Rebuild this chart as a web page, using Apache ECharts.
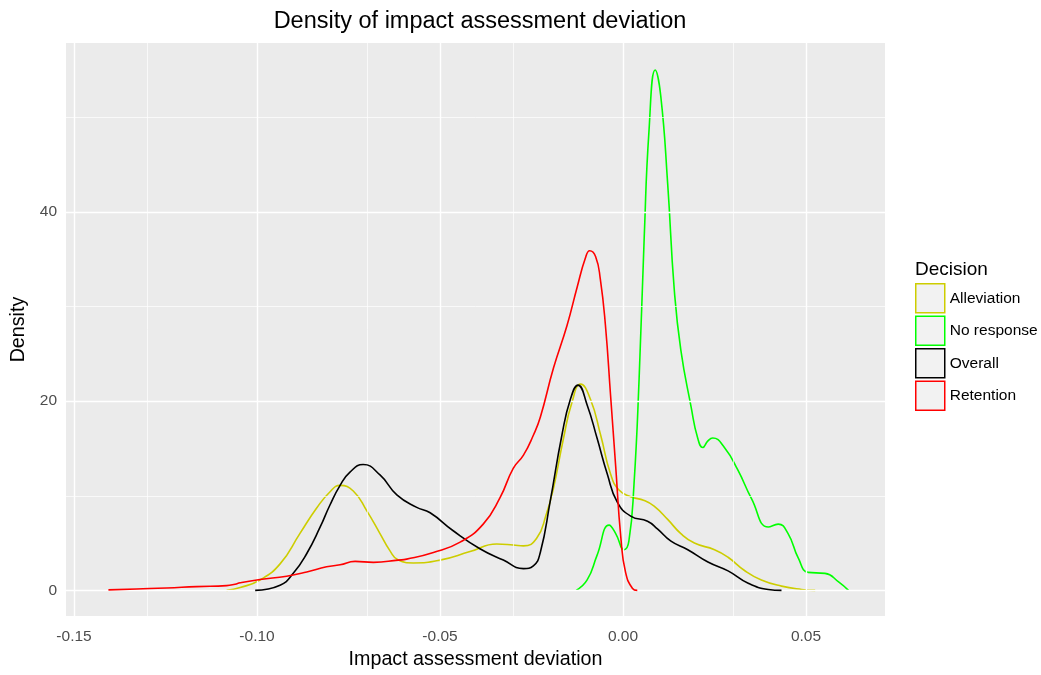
<!DOCTYPE html>
<html>
<head>
<meta charset="utf-8">
<title>Density of impact assessment deviation</title>
<script src="https://cdn.jsdelivr.net/npm/echarts@6/dist/echarts.min.js"></script>
<style>
  html, body { margin: 0; padding: 0; background: #ffffff; }
  #chart { width: 1041px; height: 675px; }
</style>
</head>
<body>
<div id="chart"></div>
<script>
// Kernel density estimates per decision group (x: deviation, y: density)
const alleviationX = [-0.1083, -0.1046, -0.0992, -0.0937, -0.0883, -0.0837, -0.0801, -0.0773, -0.0737, -0.070, -0.0664, -0.0637, -0.0614, -0.0573, -0.050, -0.0418, -0.0345, -0.030, -0.0272, -0.0236, -0.021, -0.019, -0.0163, -0.014, -0.0116, -0.0089, -0.0061, -0.0034, -0.0011, 0.0021, 0.0058, 0.0085, 0.0122, 0.0158, 0.0195, 0.025, 0.0287, 0.0332, 0.0378, 0.0433, 0.0488, 0.0525];
const alleviationY = [0.0, 0.3, 1.1, 2.8, 6.0, 8.7, 10.4, 11.1, 10.5, 8.4, 6.0, 4.2, 3.2, 2.9, 3.2, 4.1, 4.9, 4.8, 4.7, 5.5, 8.0, 10.8, 16.0, 19.8, 21.8, 20.2, 16.4, 12.3, 10.6, 9.9, 9.5, 8.9, 7.5, 6.0, 5.0, 4.3, 3.5, 2.1, 1.1, 0.45, 0.1, 0.0];

const noResponseX = [-0.0128, -0.0098, -0.0071, -0.0038, -0.002, 0.0003, 0.0016, 0.003, 0.0044, 0.0058, 0.0071, 0.0088, 0.0103, 0.0122, 0.014, 0.0158, 0.0186, 0.0204, 0.0218, 0.0232, 0.0245, 0.0277, 0.0314, 0.0351, 0.0397, 0.0424, 0.0451, 0.0479, 0.0506, 0.0552, 0.0589, 0.0616];
const noResponseY = [0.0, 1.1, 3.7, 6.9, 6.0, 4.3, 5.2, 11.2, 22.4, 37.4, 48.6, 55.0, 52.3, 43.0, 31.8, 25.4, 19.4, 16.1, 15.1, 15.8, 16.1, 15.1, 12.7, 9.7, 6.7, 7.0, 6.0, 3.4, 1.9, 1.8, 0.9, 0.0];

const overallX = [-0.1005, -0.0937, -0.0901, -0.0864, -0.0828, -0.0801, -0.0773, -0.0746, -0.071, -0.0664, -0.0618, -0.0565, -0.0527, -0.0464, -0.0391, -0.0327, -0.0272, -0.0245, -0.0226, -0.0199, -0.0167, -0.0143, -0.0123, -0.0098, -0.0071, -0.0043, -0.0016, 0.0021, 0.0067, 0.0094, 0.0131, 0.0177, 0.0232, 0.0287, 0.0342, 0.0397, 0.0433];
const overallY = [0.0, 0.55, 1.8, 3.9, 6.65, 9.0, 11.1, 12.5, 13.3, 12.2, 10.1, 8.8, 8.2, 6.3, 4.4, 3.2, 2.3, 2.6, 4.0, 9.4, 16.4, 20.3, 21.7, 19.6, 16.1, 12.3, 9.35, 7.85, 7.3, 6.5, 5.2, 4.3, 3.0, 2.06, 0.75, 0.1, 0.0];

const retentionX = [-0.1406, -0.1329, -0.1247, -0.1165, -0.1083, -0.1060, -0.1046, -0.0992, -0.0919, -0.0864, -0.081, -0.0773, -0.0732, -0.0682, -0.0614, -0.0591, -0.0518, -0.0445, -0.0382, -0.0336, -0.030, -0.0272, -0.0245, -0.0226, -0.019, -0.0153, -0.0125, -0.0103, -0.0091, -0.0075, -0.0062, -0.0048, -0.0034, -0.002, -0.0006, 0.0007, 0.0026, 0.0039];
const retentionY = [0.05, 0.15, 0.25, 0.4, 0.5, 0.65, 0.8, 1.15, 1.5, 1.95, 2.5, 2.7, 3.06, 2.96, 3.2, 3.3, 4.0, 5.1, 7.0, 9.8, 12.9, 14.3, 16.4, 18.3, 23.5, 28.0, 32.1, 35.1, 35.9, 35.3, 32.9, 28.0, 20.6, 13.1, 5.6, 1.9, 0.2, 0.0];

// Axis ticks and grid positions
const xTicks = [-0.15, -0.10, -0.05, 0.00, 0.05];
const xMinor = [-0.125, -0.075, -0.025, 0.025];
const yTicks = [0, 20, 40];
const yMinor = [10, 30, 50];

const groupNames = ['Alleviation', 'No response', 'Overall', 'Retention'];
const groupColors = ['#cdcd00', '#00ff00', '#000000', '#ff0000'];
const groupX = [alleviationX, noResponseX, overallX, retentionX];
const groupY = [alleviationY, noResponseY, overallY, retentionY];

const zip = (xs, ys) => xs.map((x, i) => [x, ys[i]]);

const FONT = '"Liberation Sans", Arial, sans-serif';

const gridLines = [];
xTicks.forEach(v => gridLines.push({ xAxis: v, lineStyle: { color: '#ffffff', width: 1.4, type: 'solid' } }));
xMinor.forEach(v => gridLines.push({ xAxis: v, lineStyle: { color: '#ffffff', width: 0.7, type: 'solid' } }));
yTicks.forEach(v => gridLines.push({ yAxis: v, lineStyle: { color: '#ffffff', width: 1.4, type: 'solid' } }));
yMinor.forEach(v => gridLines.push({ yAxis: v, lineStyle: { color: '#ffffff', width: 0.7, type: 'solid' } }));

const series = [{
  name: '__grid',
  type: 'line',
  data: [],
  z: 1,
  silent: true,
  markLine: {
    silent: true,
    symbol: ['none', 'none'],
    label: { show: false },
    animation: false,
    data: gridLines
  }
}];

groupNames.forEach((name, i) => {
  series.push({
    name: name,
    type: 'line',
    data: zip(groupX[i], groupY[i]),
    smooth: 0.5,
    showSymbol: false,
    z: 3 + i,
    lineStyle: { color: groupColors[i], width: 1.6 },
    itemStyle: { color: groupColors[i] }
  });
});

const chart = echarts.init(document.getElementById('chart'), null, { renderer: 'canvas' });
chart.setOption({
  animation: false,
  backgroundColor: '#ffffff',
  title: [{
    text: 'Density of impact assessment deviation',
    left: 475, top: 5, textAlign: 'center',
    textStyle: { fontFamily: FONT, fontSize: 23.5, fontWeight: 'normal', color: '#000000' }
  }, {
    text: 'Decision',
    left: 910, top: 255,
    textStyle: { fontFamily: FONT, fontSize: 19, fontWeight: 'normal', color: '#000000' }
  }],
  legend: {
    orient: 'vertical',
    left: 910, top: 278,
    icon: 'rect',
    itemWidth: 29, itemHeight: 29, itemGap: 2,
    textStyle: { fontFamily: FONT, fontSize: 15.5, color: '#000000' },
    data: groupNames.map((n, i) => ({
      name: n,
      icon: 'rect',
      itemStyle: { color: '#f2f2f2', borderColor: groupColors[i], borderWidth: 1.5 }
    }))
  },
  grid: {
    left: 66, right: 156, top: 43, bottom: 52,
    show: true, backgroundColor: '#ebebeb', borderWidth: 0
  },
  xAxis: {
    type: 'value',
    min: -0.15219, max: 0.07158,
    name: 'Impact assessment deviation',
    nameLocation: 'middle', nameGap: 33,
    nameTextStyle: { fontFamily: FONT, fontSize: 19.7, color: '#000000' },
    axisLine: { show: false },
    splitLine: { show: false },
    axisTick: { show: true, length: 5, customValues: xTicks, lineStyle: { color: '#333333', width: 1 } },
    axisLabel: {
      customValues: xTicks, margin: 13,
      fontFamily: FONT, fontSize: 15.5, color: '#4d4d4d',
      formatter: v => v.toFixed(2)
    }
  },
  yAxis: {
    type: 'value',
    min: -2.72, max: 57.86,
    name: 'Density',
    nameLocation: 'middle', nameGap: 34, nameRotate: 90,
    nameTextStyle: { fontFamily: FONT, fontSize: 19.7, color: '#000000' },
    axisLine: { show: false },
    splitLine: { show: false },
    axisTick: { show: true, length: 5, customValues: yTicks, lineStyle: { color: '#333333', width: 1 } },
    axisLabel: {
      customValues: yTicks, margin: 9,
      fontFamily: FONT, fontSize: 15.5, color: '#4d4d4d'
    }
  },
  series: series
});
</script>
</body>
</html>
